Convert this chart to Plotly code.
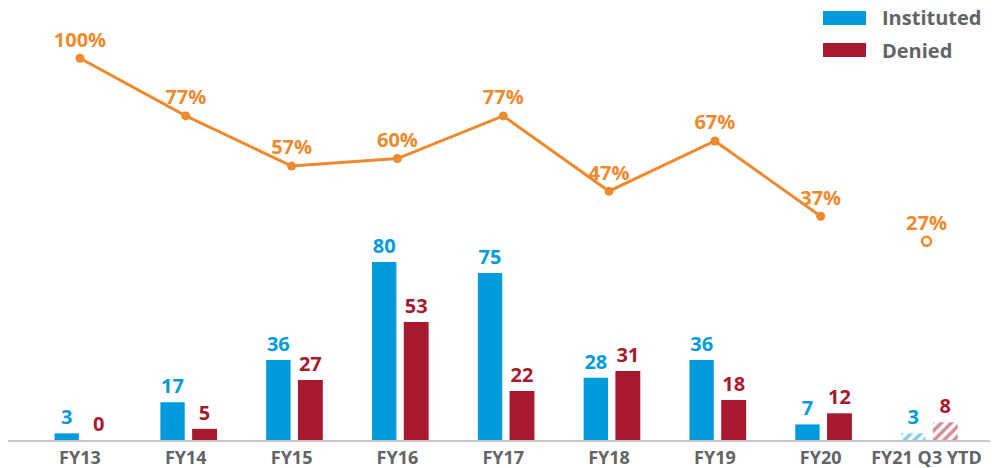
import plotly.graph_objects as go

categories = ["FY13", "FY14", "FY15", "FY16", "FY17", "FY18", "FY19", "FY20", "FY21 Q3 YTD"]
instituted = [3, 17, 36, 80, 75, 28, 36, 7, 3]
denied = [0, 5, 27, 53, 22, 31, 18, 12, 8]
rate_pct = [100, 77, 57, 60, 77, 47, 67, 37]          # FY13..FY20 (solid line)
rate_ytd = [27]                                        # FY21 Q3 YTD (open marker)
series_names = ["Instituted", "Denied"]

BLUE = "#009BDD"
RED = "#A6192E"
ORANGE = "#EE8A2D"
GRAY = "#636467"
FONT = "Open Sans"

n = len(categories)
xs = list(range(n))
hatch = ["" for _ in range(n - 1)] + ["/"]

fig = go.Figure()
fig.add_trace(go.Bar(
    x=xs, y=instituted, name=series_names[0], width=0.23, offset=-0.24,
    marker=dict(color=BLUE, line=dict(width=0),
                pattern=dict(shape=hatch, fgcolor=BLUE, bgcolor="white", size=7, solidity=0.5)),
    text=instituted, textposition="outside", cliponaxis=False,
    textfont=dict(color=BLUE, size=20, family=FONT, weight="bold"),
    showlegend=False))
fig.add_trace(go.Bar(
    x=xs, y=denied, name=series_names[1], width=0.235, offset=0.06,
    marker=dict(color=RED, line=dict(width=0),
                pattern=dict(shape=hatch, fgcolor=RED, bgcolor="white", size=7, solidity=0.5)),
    text=denied, textposition="outside", cliponaxis=False,
    textfont=dict(color=RED, size=20, family=FONT, weight="bold"),
    showlegend=False))
fig.add_trace(go.Scatter(
    x=xs[:len(rate_pct)], y=rate_pct, yaxis="y2", mode="lines+markers+text",
    line=dict(color=ORANGE, width=3), marker=dict(color=ORANGE, size=9),
    text=[f"{v}%" for v in rate_pct], textposition="top center",
    textfont=dict(color=ORANGE, size=20, family=FONT, weight="bold"),
    cliponaxis=False, showlegend=False))
fig.add_trace(go.Scatter(
    x=xs[len(rate_pct):], y=rate_ytd, yaxis="y2", mode="markers+text",
    marker=dict(color="white", size=9, symbol="circle", line=dict(color=ORANGE, width=2.5)),
    text=[f"{v}%" for v in rate_ytd], textposition="top center",
    textfont=dict(color=ORANGE, size=20, family=FONT, weight="bold"),
    cliponaxis=False, showlegend=False))

# manual legend (wide swatches)
legend_colors = [BLUE, RED]
for i, (nm, col) in enumerate(zip(series_names, legend_colors)):
    top = 11 + i * 32
    fig.add_shape(type="rect", xref="paper", yref="paper",
                  x0=(823 - 8) / 982, x1=(866 - 8) / 982,
                  y0=1 - (top + 14) / 440, y1=1 - top / 440,
                  fillcolor=col, line=dict(width=0))
    fig.add_annotation(xref="paper", yref="paper", x=(880 - 8) / 982, y=1 - (top + 7) / 440,
                       text=nm, showarrow=False, xanchor="left", yanchor="middle",
                       font=dict(color=GRAY, size=20, family=FONT, weight="bold"))

fig.update_layout(
    width=999, height=468, margin=dict(l=8, r=9, t=0, b=28, autoexpand=False),
    plot_bgcolor="white", paper_bgcolor="white", barmode="overlay",
    xaxis=dict(tickmode="array", tickvals=xs, ticktext=categories, range=[-0.68, 8.6],
               automargin=False,
               showgrid=False, zeroline=False, showline=True, linecolor="#C8C8C8", linewidth=2,
               ticks="", tickfont=dict(color=GRAY, size=18, family=FONT, weight="bold")),
    yaxis=dict(range=[0, 197.75], visible=False, showgrid=False, zeroline=False, automargin=False),
    yaxis2=dict(range=[-52.2, 123.2], overlaying="y", visible=False, showgrid=False,
                zeroline=False, automargin=False),
)

fig.write_html("out.html")
